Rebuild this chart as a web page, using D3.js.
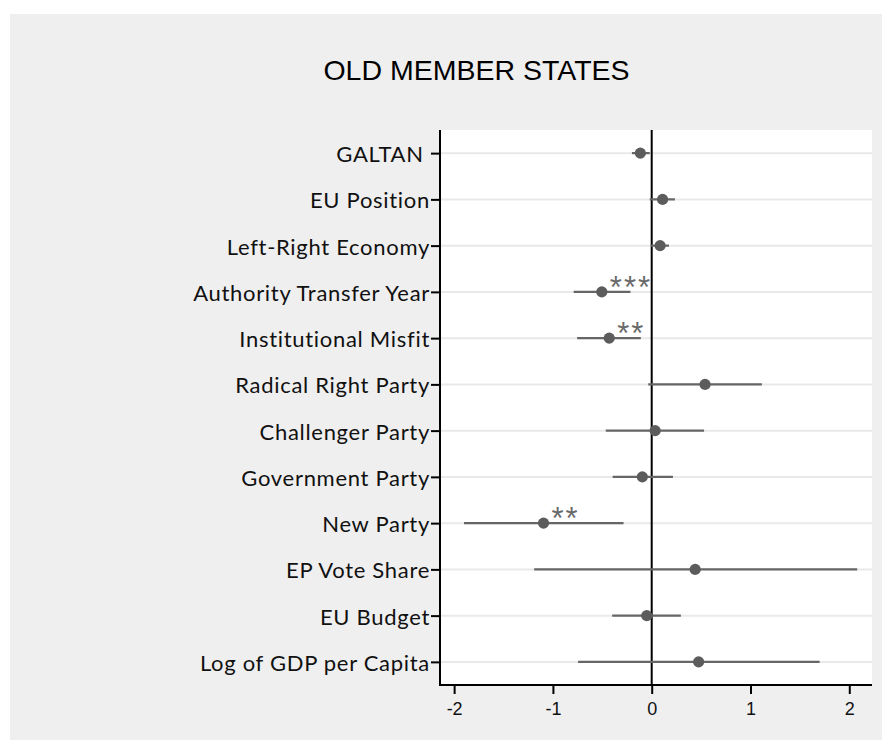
<!DOCTYPE html>
<html>
<head>
<meta charset="utf-8">
<script src="https://cdn.jsdelivr.net/npm/d3@7"></script>
<style>
  html, body { margin: 0; padding: 0; background: #ffffff; }
  svg { display: block; }
</style>
</head>
<body>
<svg id="chart" width="882" height="740"></svg>
<script>
// Coefficient estimates with confidence intervals, old member states
const categories = [
  "GALTAN ", "EU Position", "Left-Right Economy", "Authority Transfer Year",
  "Institutional Misfit", "Radical Right Party", "Challenger Party",
  "Government Party", "New Party", "EP Vote Share", "EU Budget",
  "Log of GDP per Capita"
];
const estimates = [-0.115, 0.11, 0.085, -0.505, -0.43, 0.54, 0.035, -0.095, -1.095, 0.44, -0.05, 0.475];
const ciLower   = [-0.20, -0.02, -0.01, -0.79, -0.755, -0.035, -0.465, -0.395, -1.90, -1.19, -0.40, -0.745];
const ciUpper   = [-0.02, 0.235, 0.175, -0.215, -0.11, 1.115, 0.53, 0.215, -0.285, 2.08, 0.295, 1.70];
const stars     = ["", "", "", "***", "**", "", "", "", "**", "", "", ""];
const xTicks    = [-2, -1, 0, 1, 2];
const title     = "OLD MEMBER STATES";

const rows = categories.map((c, i) => ({
  name: c, est: estimates[i], lo: ciLower[i], hi: ciUpper[i], sig: stars[i]
}));

const svg = d3.select("#chart");

// outer grey graph region
svg.append("rect")
  .attr("x", 10).attr("y", 14).attr("width", 872).attr("height", 726)
  .attr("fill", "#efefef");

const plot = { left: 440, right: 872, top: 130, bottom: 685 };

const x = d3.scaleLinear().domain([-2.143, 2.23]).range([plot.left, plot.right]);
const y = d3.scalePoint().domain(categories).range([plot.top, plot.bottom]).padding(0.5);

// plot background
svg.append("rect")
  .attr("x", plot.left).attr("y", plot.top)
  .attr("width", plot.right - plot.left).attr("height", plot.bottom - plot.top)
  .attr("fill", "#ffffff");

// horizontal gridlines
svg.append("g").selectAll("line").data(categories).join("line")
  .attr("x1", plot.left).attr("x2", plot.right)
  .attr("y1", d => y(d)).attr("y2", d => y(d))
  .attr("stroke", "#e9e9e9").attr("stroke-width", 2);

// reference line at zero
svg.append("line")
  .attr("x1", x(0)).attr("x2", x(0))
  .attr("y1", plot.top).attr("y2", plot.bottom)
  .attr("stroke", "#000").attr("stroke-width", 2);

// confidence intervals
svg.append("g").selectAll("line").data(rows).join("line")
  .attr("x1", d => x(d.lo)).attr("x2", d => x(d.hi))
  .attr("y1", d => y(d.name)).attr("y2", d => y(d.name))
  .attr("stroke", "#666666").attr("stroke-width", 2.2);

// point estimates
svg.append("g").selectAll("circle").data(rows).join("circle")
  .attr("cx", d => x(d.est)).attr("cy", d => y(d.name))
  .attr("r", 5.6).attr("fill", "#5c5c5c");

// significance stars
svg.append("g").selectAll("text").data(rows.filter(d => d.sig)).join("text")
  .attr("x", d => x(d.est) + 8).attr("y", d => y(d.name) + 6)
  .attr("font-family", "'Liberation Sans', Arial, sans-serif").attr("font-size", 31)
  .attr("letter-spacing", 2)
  .attr("fill", "#6a6a6a")
  .text(d => d.sig);

// y axis
const yAxis = svg.append("g")
  .attr("transform", `translate(${plot.left},0)`)
  .call(d3.axisLeft(y).tickSize(9).tickPadding(1));
yAxis.select(".domain").remove();
yAxis.selectAll(".tick line").attr("stroke", "#000").attr("stroke-width", 2);
yAxis.selectAll(".tick text")
  .attr("font-family", "Lato, sans-serif").attr("font-size", 22)
  .attr("letter-spacing", 0.7)
  .attr("fill", "#111")
  .style("white-space", "pre")
  .attr("dy", "0.38em");

// x axis
const xAxis = svg.append("g")
  .attr("transform", `translate(0,${plot.bottom})`)
  .call(d3.axisBottom(x).tickValues(xTicks).tickSize(9).tickPadding(8)
    .tickFormat(d => String(d)));
xAxis.select(".domain").remove();
xAxis.selectAll(".tick line").attr("stroke", "#000").attr("stroke-width", 2);
xAxis.selectAll(".tick text")
  .attr("font-family", "'Liberation Sans', Arial, sans-serif").attr("font-size", 18)
  .attr("fill", "#111");

// axis lines
svg.append("line")
  .attr("x1", plot.left).attr("x2", plot.left)
  .attr("y1", plot.top).attr("y2", plot.bottom + 1)
  .attr("stroke", "#000").attr("stroke-width", 2);
svg.append("line")
  .attr("x1", plot.left - 1).attr("x2", plot.right)
  .attr("y1", plot.bottom).attr("y2", plot.bottom)
  .attr("stroke", "#000").attr("stroke-width", 2);

// title
svg.append("text")
  .attr("x", 476.5).attr("y", 80)
  .attr("text-anchor", "middle")
  .attr("font-family", "'Liberation Sans', Arial, sans-serif")
  .attr("font-size", 28.5)
  .attr("fill", "#000")
  .text(title);
</script>
</body>
</html>
